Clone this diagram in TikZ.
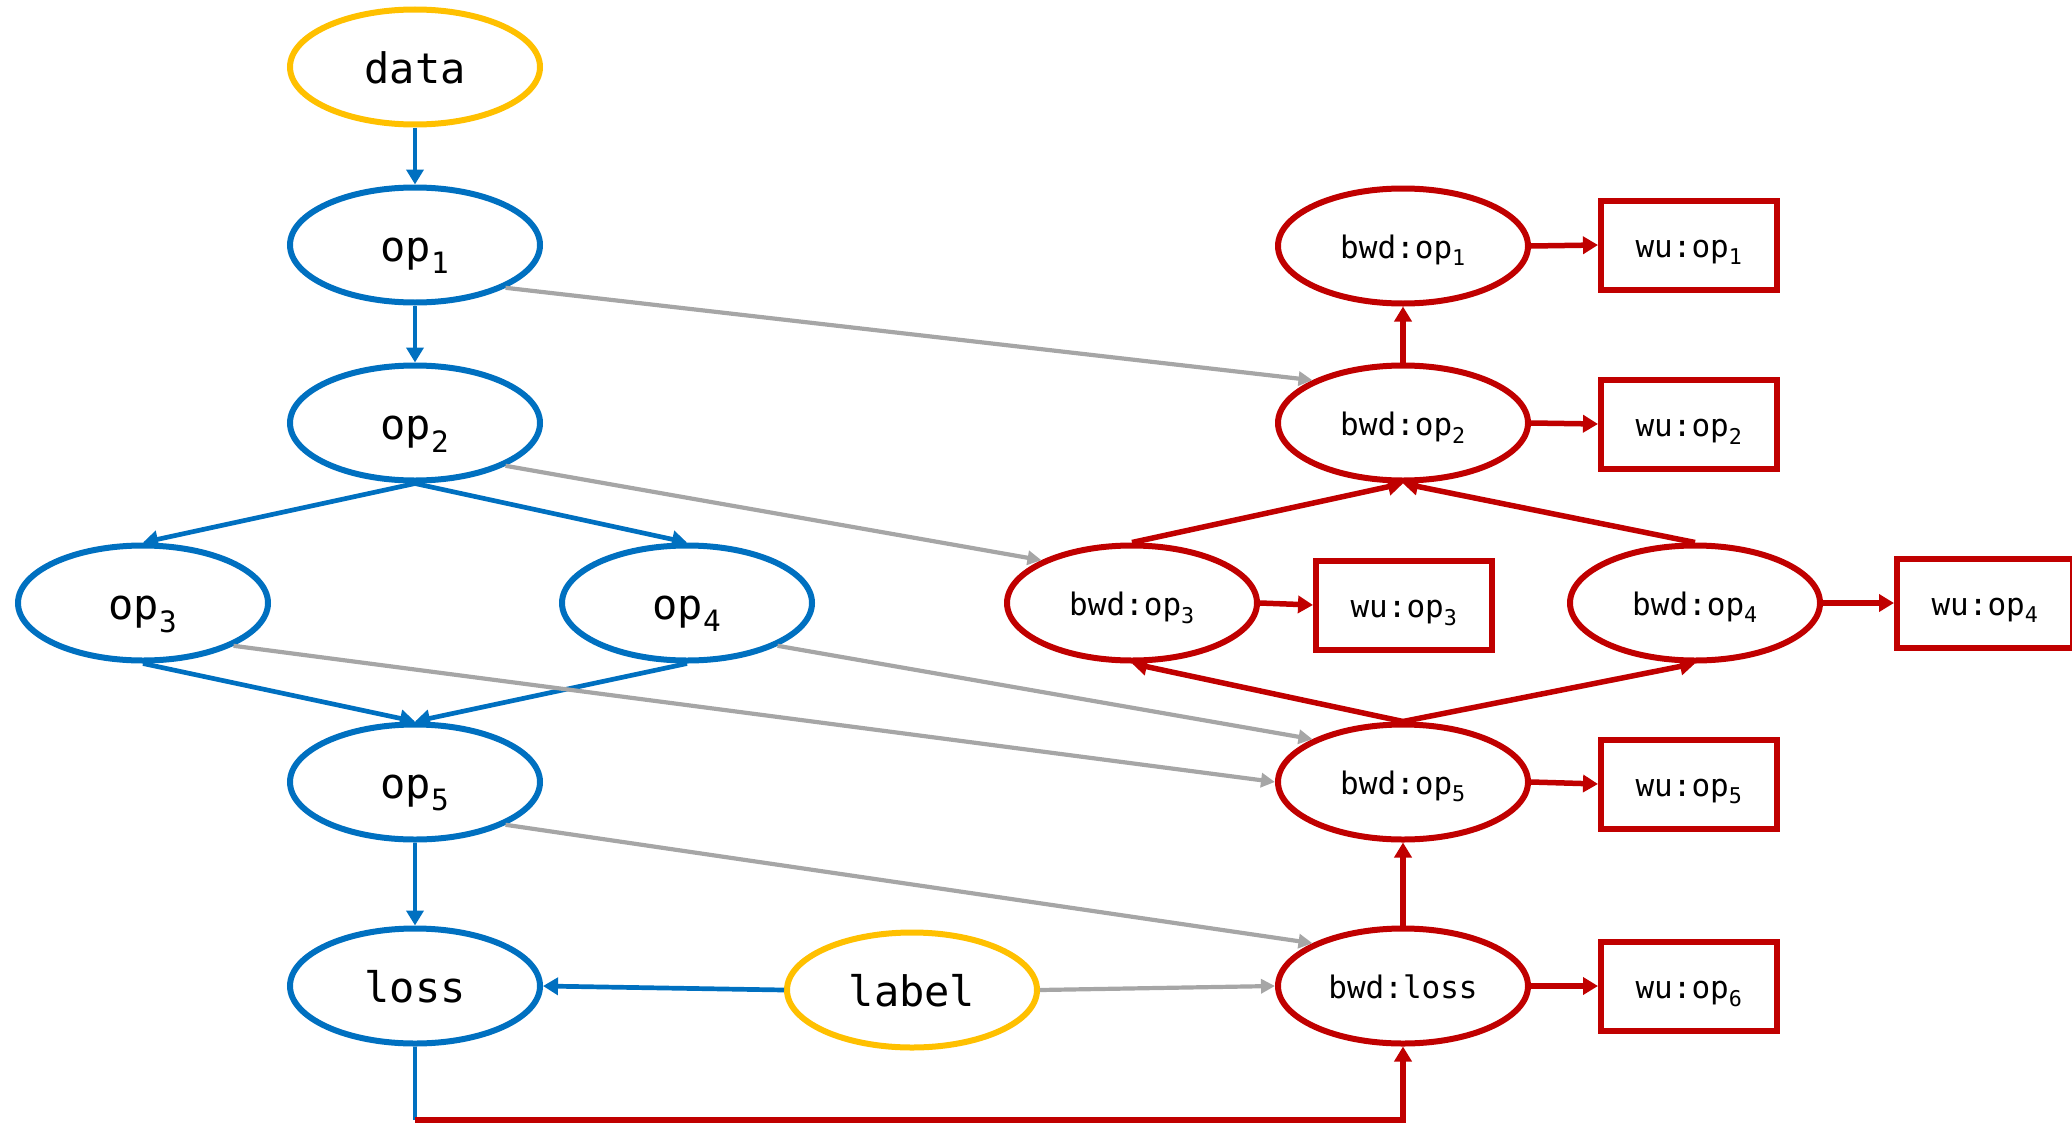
\documentclass[tikz,border=0pt]{standalone}
\usepackage{fontspec}
\setmonofont{DejaVu Sans Mono}
\usetikzlibrary{arrows.meta,shapes.geometric}

\definecolor{fwdblue}{HTML}{0070C0}
\definecolor{bwdred}{HTML}{C00000}
\definecolor{ioyellow}{HTML}{FFC000}
\definecolor{linkgray}{HTML}{A6A6A6}

\newcommand{\bigmono}{\ttfamily\fontsize{42pt}{50pt}\selectfont}
\newcommand{\smallmono}{\ttfamily\fontsize{31pt}{37pt}\selectfont}

\begin{document}
\begin{tikzpicture}[x=1pt,y=-1pt,
  opnode/.style={ellipse, line width=6pt, minimum width=250pt, minimum height=115pt, inner sep=0pt},
  fwd/.style={opnode, draw=fwdblue, font=\bigmono, text height=32pt, text depth=0pt},
  io/.style={opnode, draw=ioyellow, font=\bigmono, text height=32pt, text depth=0pt},
  bwd/.style={opnode, draw=bwdred, font=\smallmono, text height=25pt, text depth=0pt},
  wu/.style={rectangle, draw=bwdred, line width=6pt, minimum width=176pt, minimum height=89pt, inner sep=0pt,
    font=\smallmono, text height=25pt, text depth=0pt},
  tip/.style={-{Triangle[length=15pt,width=17pt]}},
  fwdarrow/.style={tip, draw=fwdblue, line width=4.7pt},
  bwdarrow/.style={tip, draw=bwdred, line width=5.5pt},
  linkarrow/.style={-{Triangle[length=14pt,width=14pt]}, draw=linkgray, line width=4.2pt},
]
\useasboundingbox (0,0) rectangle (2072,1124);

% forward graph
\node[io]  (data)  at (415,67)  {data};
\node[fwd] (op1)   at (415,245) {op\textsubscript{1}};
\node[fwd] (op2)   at (415,423) {op\textsubscript{2}};
\node[fwd] (op3)   at (143,603) {op\textsubscript{3}};
\node[fwd] (op4)   at (687,603) {op\textsubscript{4}};
\node[fwd] (op5)   at (415,782) {op\textsubscript{5}};
\node[fwd] (loss)  at (415,986) {loss};
\node[io]  (label) at (912,990) {label};

% backward graph
\node[bwd] (b1) at (1403,246) {bwd:op\textsubscript{1}};
\node[bwd] (b2) at (1403,423) {bwd:op\textsubscript{2}};
\node[bwd] (b3) at (1132,603) {bwd:op\textsubscript{3}};
\node[bwd] (b4) at (1695,603) {bwd:op\textsubscript{4}};
\node[bwd] (b5) at (1403,782) {bwd:op\textsubscript{5}};
\node[bwd] (bl) at (1403,986) {bwd:loss};

% weight updates
\node[wu] (w1) at (1689,245)  {wu:op\textsubscript{1}};
\node[wu] (w2) at (1689,424)  {wu:op\textsubscript{2}};
\node[wu] (w3) at (1404,605)  {wu:op\textsubscript{3}};
\node[wu] (w4) at (1985,603)  {wu:op\textsubscript{4}};
\node[wu] (w5) at (1689,784)  {wu:op\textsubscript{5}};
\node[wu] (w6) at (1689,986)  {wu:op\textsubscript{6}};

\coordinate (turn) at (415,1120);

% forward edges
\draw[fwdarrow] (data.south) -- (op1.north);
\draw[fwdarrow] (op1.south) -- (op2.north);
\draw[fwdarrow] (op2.south) -- (op3.north);
\draw[fwdarrow] (op2.south) -- (op4.north);
\draw[fwdarrow] (op3.south) -- (op5.north);
\draw[fwdarrow] (op4.south) -- (op5.north);
\draw[fwdarrow] (op5.south) -- (loss.north);
\draw[fwdarrow] (label.west) -- (loss.east);

% activations passed to the backward pass
\draw[linkarrow] (op1.south east) -- (b2.north west);
\draw[linkarrow] (op2.south east) -- (b3.north west);
\draw[linkarrow] (op3.south east) -- (b5.west);
\draw[linkarrow] (op4.south east) -- (b5.north west);
\draw[linkarrow] (op5.south east) -- (bl.north west);
\draw[linkarrow] (label.east) -- (bl.west);

% loss to backward start
\draw[draw=fwdblue, line width=3.8pt] (loss.south) -- (turn);
\draw[bwdarrow] (turn) -| (bl.south);

% backward edges
\draw[bwdarrow] (bl.north) -- (b5.south);
\draw[bwdarrow] (b5.north) -- (b3.south);
\draw[bwdarrow] (b5.north) -- (b4.south);
\draw[bwdarrow] (b3.north) -- (b2.south);
\draw[bwdarrow] (b4.north) -- (b2.south);
\draw[bwdarrow] (b2.north) -- (b1.south);

% weight update edges
\draw[bwdarrow] (b1.east) -- (w1.west);
\draw[bwdarrow] (b2.east) -- (w2.west);
\draw[bwdarrow] (b3.east) -- (w3.west);
\draw[bwdarrow] (b4.east) -- (w4.west);
\draw[bwdarrow] (b5.east) -- (w5.west);
\draw[bwdarrow] (bl.east) -- (w6.west);
\end{tikzpicture}
\end{document}
